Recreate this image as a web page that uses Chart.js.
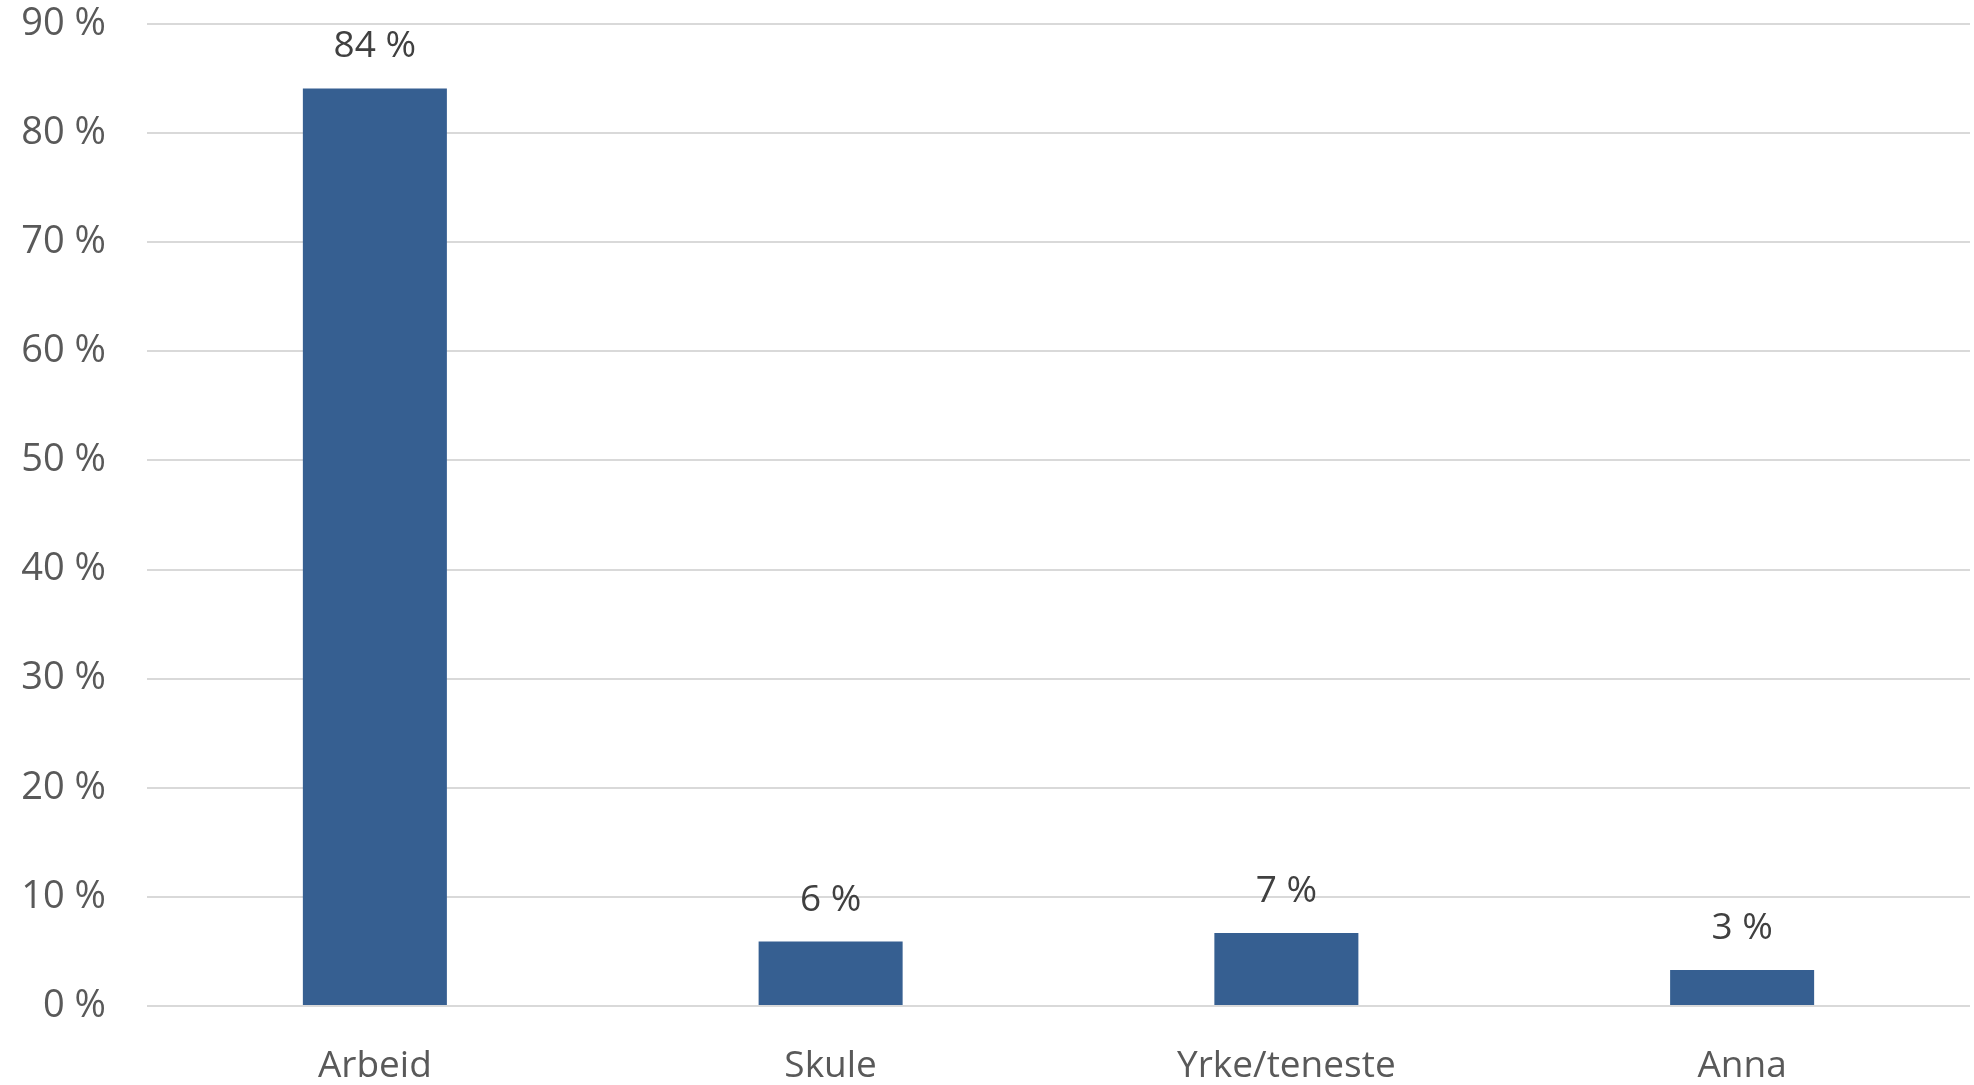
<!DOCTYPE html>
<html>
<head>
<meta charset="utf-8">
<title>Arbeid / Skule / Yrke</title>
<script src="https://cdn.jsdelivr.net/npm/chart.js@4"></script>
<style>
  html, body { margin: 0; padding: 0; background: #fff; }
  canvas { display: block; }
</style>
</head>
<body>
<canvas id="myChart" width="1974" height="1085"></canvas>
<script>
const categories = ["Arbeid", "Skule", "Yrke/teneste", "Anna"];
const shares = [84.1, 5.9, 6.7, 3.3];
const yTicks = [0, 10, 20, 30, 40, 50, 60, 70, 80, 90];

const FONT = "'Open Sans', sans-serif";

// -------- value labels above the bars --------
const barLabels = {
  id: "barLabels",
  afterDatasetsDraw(chart) {
    const ctx = chart.ctx;
    const meta = chart.getDatasetMeta(0);
    ctx.save();
    ctx.font = "37px " + FONT;
    ctx.fillStyle = "#404040";
    ctx.textAlign = "center";
    ctx.textBaseline = "bottom";
    meta.data.forEach((bar, i) => {
      ctx.fillText(Math.round(shares[i]) + " %", bar.x, bar.y - 23);
    });
    ctx.restore();
  },
};

const chart = new Chart(document.getElementById("myChart"), {
  type: "bar",
  data: {
    labels: categories,
    datasets: [
      {
        data: shares,
        backgroundColor: "#365f91",
        categoryPercentage: 1,
        barPercentage: 0.316,
      },
    ],
  },
  options: {
    responsive: false,
    animation: false,
    devicePixelRatio: 1,
    layout: { padding: { top: 0, right: 4, left: 0, bottom: 0 } },
    plugins: {
      legend: { display: false },
      tooltip: { enabled: false },
    },
    scales: {
      x: {
        grid: { display: false, drawTicks: false },
        border: { display: false },
        ticks: {
          color: "#595959",
          font: { family: FONT, size: 37 },
          padding: 38,
        },
        afterFit(scale) {
          scale.height = 79;
        },
      },
      y: {
        min: 0,
        max: 90,
        afterBuildTicks(scale) {
          scale.ticks = yTicks.map((v) => ({ value: v }));
        },
        grid: { color: "#d9d9d9", lineWidth: 2, drawTicks: false },
        border: { display: false },
        ticks: {
          color: "#595959",
          font: { family: FONT, size: 38 },
          padding: 41,
          callback: (v) => v + " %",
        },
        afterFit(scale) {
          scale.width = 147;
          scale.paddingTop = 24;
          scale.paddingBottom = 0;
        },
      },
    },
  },
  plugins: [barLabels],
});
</script>
</body>
</html>
